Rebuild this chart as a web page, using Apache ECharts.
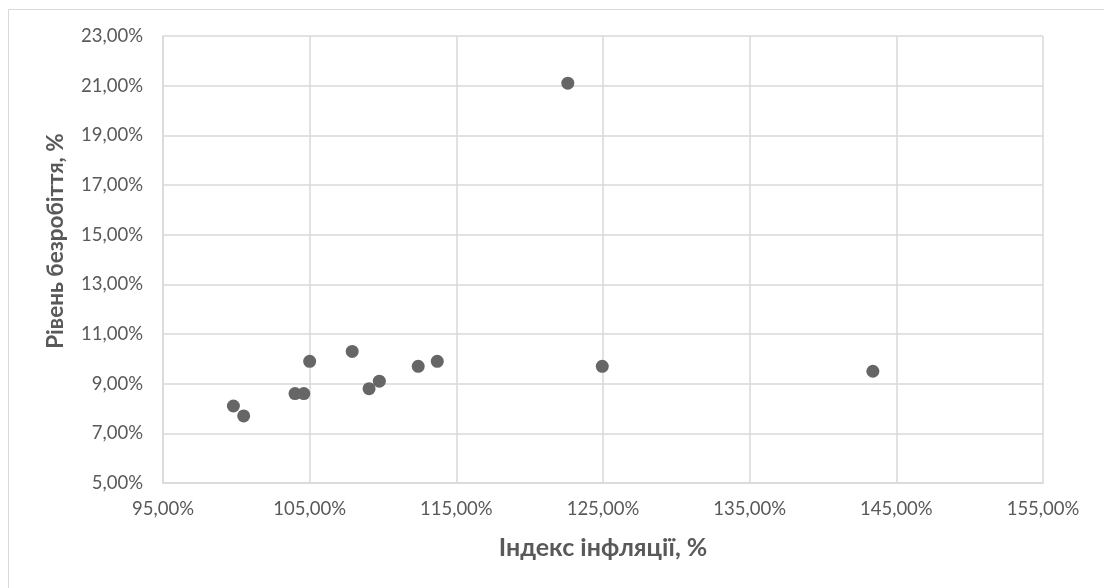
<!DOCTYPE html>
<html>
<head>
<meta charset="utf-8">
<script src="https://cdn.jsdelivr.net/npm/echarts@6/dist/echarts.min.js"></script>
<style>
html,body{margin:0;padding:0;background:#fff;}
#chart{width:1104px;height:588px;}
</style>
</head>
<body>
<div id="chart"></div>
<script>
// Inflation index, % (x) and unemployment rate, % (y)
var inflationIndex = [99.8, 100.5, 104.0, 104.6, 105.0, 107.9, 109.05, 109.75, 112.4, 113.7, 122.6, 124.95, 143.4];
var unemploymentRate = [8.1, 7.7, 8.6, 8.6, 9.9, 10.3, 8.8, 9.1, 9.7, 9.9, 21.1, 9.7, 9.5];
var xTitle = 'Індекс інфляції, %';
var yTitle = 'Рівень безробіття, %';

var points = inflationIndex.map(function (x, i) { return [x, unemploymentRate[i]]; });
function pct(v) { return v.toFixed(2).replace('.', ',') + '%'; }

var chart = echarts.init(document.getElementById('chart'));
var font = 'Lato, "Open Sans", sans-serif';
chart.setOption({
  animation: false,
  backgroundColor: '#ffffff',
  graphic: [{
    type: 'rect',
    shape: { x: 8.5, y: 9.5, width: 1120, height: 600 },
    style: { fill: 'none', stroke: '#d9d9d9', lineWidth: 1 },
    silent: true
  }, {
    type: 'text',
    x: 56, y: 241,
    rotation: Math.PI / 2,
    silent: true,
    style: {
      text: yTitle,
      fill: '#595959',
      fontSize: 22.5,
      fontWeight: 'bold',
      fontFamily: font,
      textAlign: 'center',
      textVerticalAlign: 'middle'
    }
  }],
  grid: { left: 163, right: 61, top: 36, bottom: 105, containLabel: false },
  xAxis: {
    type: 'value',
    min: 95, max: 155, interval: 10,
    name: xTitle,
    nameLocation: 'middle',
    nameGap: 52,
    nameTextStyle: { color: '#595959', fontSize: 25, fontWeight: 'bold', fontFamily: font },
    axisLine: { show: true, lineStyle: { color: '#d9d9d9', width: 1.5 } },
    axisTick: { show: false },
    splitLine: { show: true, lineStyle: { color: '#d9d9d9', width: 1.5 } },
    axisLabel: { formatter: pct, color: '#595959', fontSize: 18.5, fontFamily: font, margin: 17 }
  },
  yAxis: {
    type: 'value',
    min: 5, max: 23, interval: 2,
    axisLine: { show: true, lineStyle: { color: '#d9d9d9', width: 1.5 } },
    axisTick: { show: false },
    splitLine: { show: true, lineStyle: { color: '#d9d9d9', width: 1.5 } },
    axisLabel: { formatter: pct, color: '#595959', fontSize: 18.5, fontFamily: font, margin: 20 }
  },
  series: [{
    type: 'scatter',
    data: points,
    symbol: 'circle',
    symbolSize: 13,
    itemStyle: { color: '#666666', opacity: 1 }
  }]
});
</script>
</body>
</html>
